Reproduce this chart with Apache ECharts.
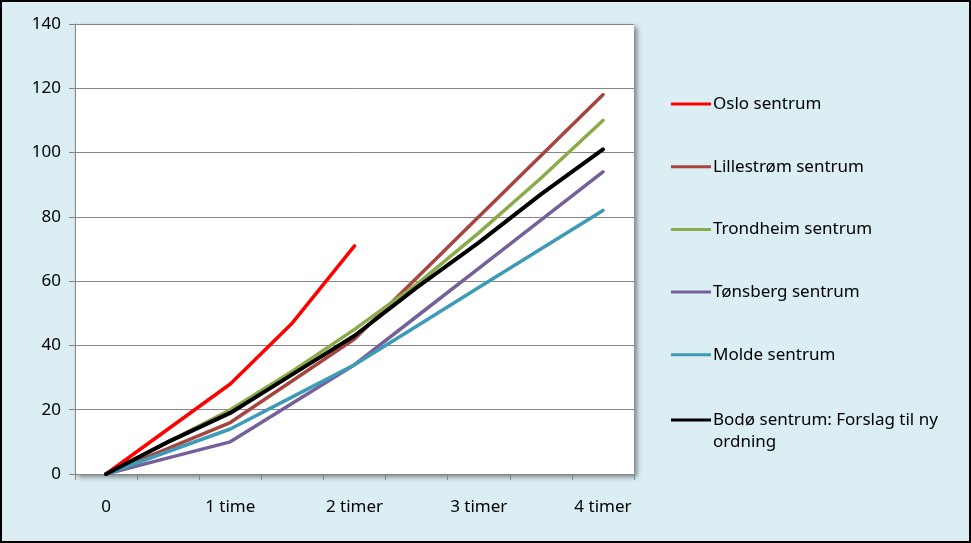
<!DOCTYPE html>
<html><head><meta charset="utf-8">
<script src="https://cdn.jsdelivr.net/npm/echarts@6/dist/echarts.min.js"></script>
<style>html,body{margin:0;padding:0;background:#DAEEF3}#c{width:971px;height:543px}</style>
</head><body><div id="c"></div>
<script>
// half-hour steps (hours)
const xCategories = ['0','0.5','1','1.5','2','2.5','3','3.5','4'];
const xTickLabels = ['0','1 time','2 timer','3 timer','4 timer'];
const yTicks = [0,20,40,60,80,100,120,140];

const seriesNames = ['Oslo sentrum','Lillestrøm sentrum','Trondheim sentrum','Tønsberg sentrum','Molde sentrum','Bodø sentrum: Forslag til ny ordning'];
const oslo       = [0, 14, 28, 47, 71];
const lillestrom = [0, 8, 16, 29, 42, 61, 80, 99, 118];
const trondheim  = [0, 10, 20, 32, 45, 59, 75, 92, 110];
const tonsberg   = [0, 5, 10, 22, 34, 49, 64, 79, 94];
const molde      = [0, 7, 14, 24, 34, 46, 58, 70, 82];
const bodo       = [0, 10, 19, 31, 43, 58, 72, 87, 101];

const colors = ['#FF0000','#A84440','#8BAA4A','#76609C','#3D9BB6','#000000'];
const widths = [3.5,3.5,3.5,3.5,3.5,4];
const allData = [oslo, lillestrom, trondheim, tonsberg, molde, bodo];

const font = '"Noto Sans", sans-serif';
const legendText = {fontSize: 17, fontFamily: font, color: '#000', lineHeight: 22, padding: [0,0,0,-3]};
const chart = echarts.init(document.getElementById('c'));
chart.setOption({
  backgroundColor: '#DAEEF3',
  animation: false,
  grid: {left: 75, right: 337, top: 24, bottom: 69, show: true, backgroundColor: '#FFFFFF', borderWidth: 0,
         shadowColor: 'rgba(0,0,0,0.45)', shadowBlur: 5, shadowOffsetX: 3, shadowOffsetY: 3},
  xAxis: {type: 'category', data: xCategories, boundaryGap: true,
    axisLine: {lineStyle: {color: '#868686', width: 1}},
    axisTick: {show: true, interval: 0, length: 6, lineStyle: {color: '#868686'}},
    axisLabel: {interval: 0, margin: 25, color: '#000', fontSize: 17, fontFamily: font,
      formatter: (v, i) => (i % 2 === 0 ? xTickLabels[i / 2] : '')},
    splitLine: {show: false}},
  yAxis: {type: 'value', min: yTicks[0], max: yTicks[yTicks.length-1], interval: 20,
    axisLine: {show: true, lineStyle: {color: '#868686', width: 1}},
    axisTick: {show: true, length: 6, lineStyle: {color: '#868686'}},
    axisLabel: {margin: 14, color: '#000', fontSize: 17, fontFamily: font},
    splitLine: {show: true, lineStyle: {color: '#868686', width: 1}}},
  legend: [
    {orient: 'vertical', left: 666, top: 88, itemWidth: 40, itemHeight: 3, itemGap: 40.7,
     icon: 'rect', data: seriesNames.slice(0, 5), textStyle: legendText},
    {orient: 'vertical', left: 666, top: 382, itemWidth: 40, itemHeight: 3,
     icon: 'rect', data: seriesNames.slice(5), textStyle: legendText,
     formatter: () => '\nBodø sentrum: Forslag til ny\nordning'}
  ],
  series: seriesNames.map((n, i) => ({
    name: n, type: 'line', data: allData[i], symbol: 'none', color: colors[i],
    lineStyle: {width: widths[i], color: colors[i], cap: 'round', join: 'round'}
  })),
  graphic: [{type: 'rect', shape: {x: 1, y: 1, width: 969, height: 541}, z: 100,
    style: {fill: 'none', stroke: '#000', lineWidth: 2}}]
});
</script></body></html>
